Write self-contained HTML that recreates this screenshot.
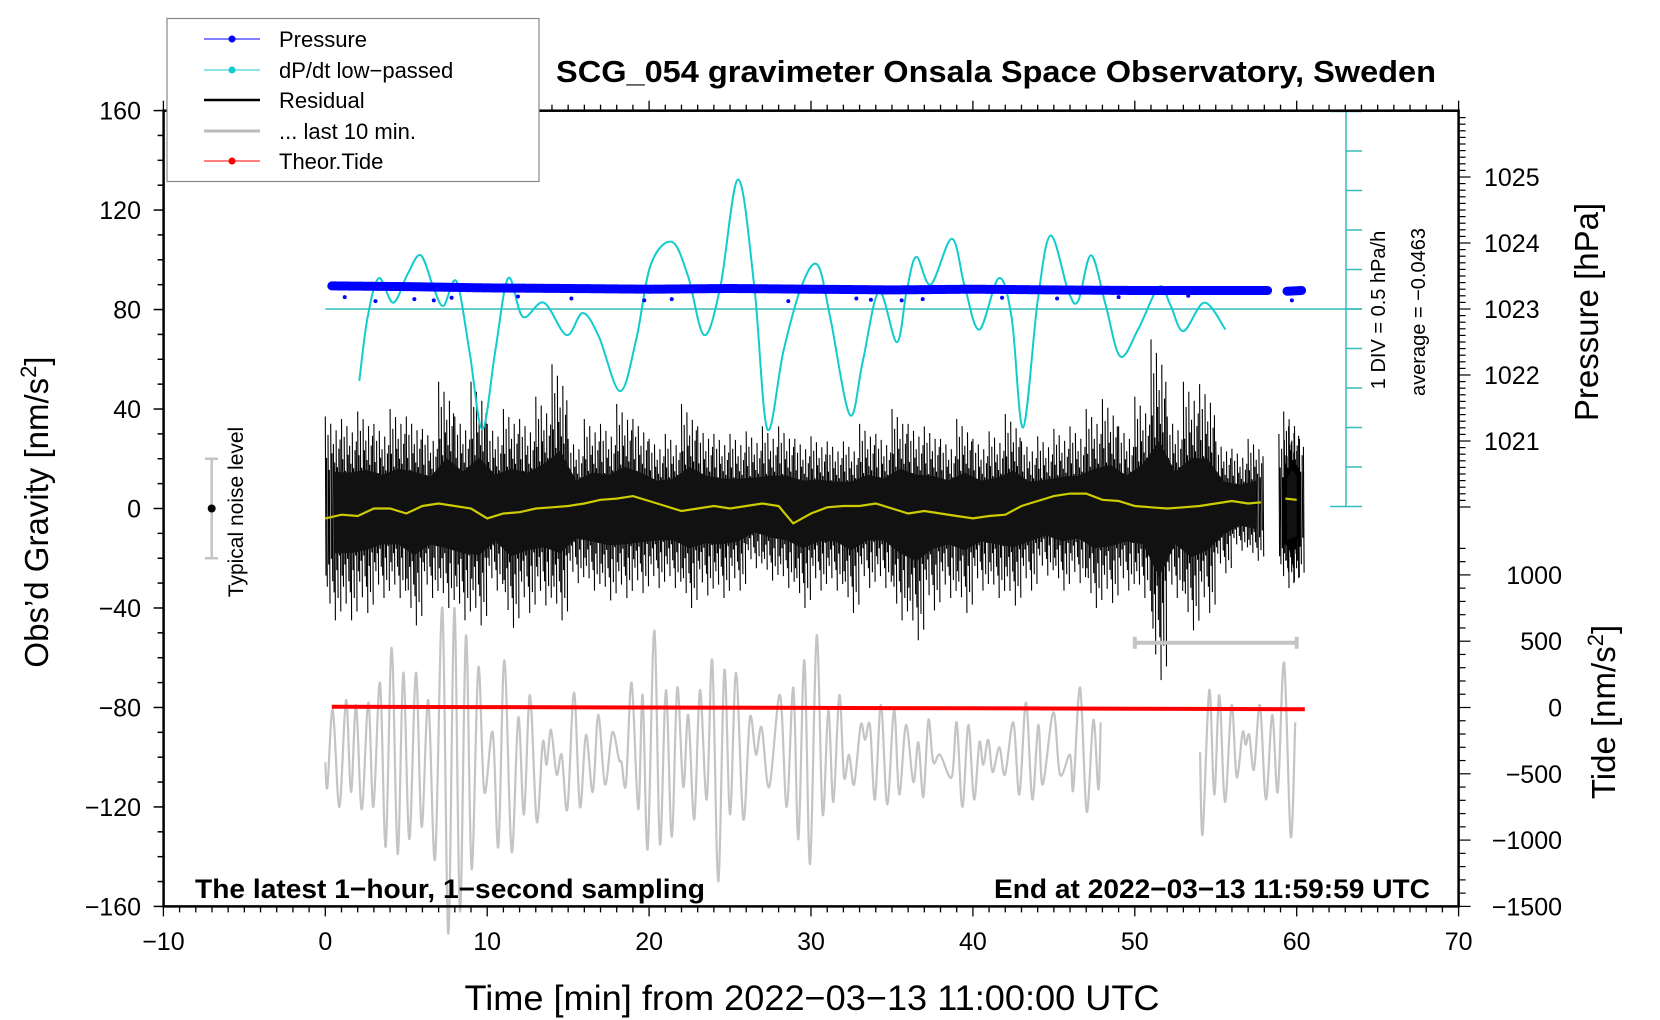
<!DOCTYPE html>
<html><head><meta charset="utf-8"><style>
html,body{margin:0;padding:0;background:#fff}
svg{display:block;font-family:"Liberation Sans",Arial,sans-serif}
</style></head><body>
<svg id="chart" width="1660" height="1020" viewBox="0 0 1660 1020" xmlns="http://www.w3.org/2000/svg">
<rect x="0" y="0" width="1660" height="1020" fill="#fff"/>
<g id="axes"></g>
<g id="marks"></g>
<rect x="163.6" y="110.7" width="1295" height="795.7" fill="none" stroke="#000" stroke-width="2.5"/>
<text x="996" y="82" font-size="31" font-weight="bold" text-anchor="middle" textLength="880" lengthAdjust="spacingAndGlyphs">SCG_054 gravimeter Onsala Space Observatory, Sweden</text>
<text transform="translate(48,512) rotate(-90)" font-size="33" text-anchor="middle">Obs’d Gravity [nm/s<tspan font-size="22" dy="-12">2</tspan><tspan dy="12">]</tspan></text>
<text x="812" y="1010" font-size="35" text-anchor="middle" textLength="695" lengthAdjust="spacingAndGlyphs">Time [min] from 2022−03−13 11:00:00 UTC</text>
<text transform="translate(1598,312) rotate(-90)" font-size="33" text-anchor="middle">Pressure [hPa]</text>
<text transform="translate(1615,712) rotate(-90)" font-size="33" text-anchor="middle">Tide [nm/s<tspan font-size="22" dy="-12">2</tspan><tspan dy="12">]</tspan></text>
<text transform="translate(1385,310) rotate(-90)" font-size="20" text-anchor="middle">1 DIV = 0.5 hPa/h</text>
<text transform="translate(1425,312) rotate(-90)" font-size="20" text-anchor="middle">average = −0.0463</text>
<text transform="translate(243,512) rotate(-90)" font-size="21" text-anchor="middle">Typical noise level</text>
<text x="195" y="898" font-size="27" font-weight="bold" textLength="510" lengthAdjust="spacingAndGlyphs">The latest 1−hour, 1−second sampling</text>
<text x="1430" y="898" font-size="27" font-weight="bold" text-anchor="end" textLength="436" lengthAdjust="spacingAndGlyphs">End at 2022−03−13 11:59:59 UTC</text>
<g>
<rect x="167" y="18.5" width="372" height="163" fill="#fff" stroke="#888" stroke-width="1.2"/>
<g><line x1="204" y1="39" x2="260" y2="39" stroke="#00f" stroke-width="1"/><circle cx="232" cy="39" r="3.5" fill="#00f"/><text x="279" y="47" font-size="22">Pressure</text></g>
<g><line x1="204" y1="70" x2="260" y2="70" stroke="#2cc" stroke-width="1"/><circle cx="232" cy="70" r="3.5" fill="#1cc"/><text x="279" y="78" font-size="22">dP/dt low−passed</text></g>
<g><line x1="204" y1="100" x2="260" y2="100" stroke="#000" stroke-width="2.5"/><text x="279" y="108" font-size="22">Residual</text></g>
<g><line x1="204" y1="131" x2="260" y2="131" stroke="#bbb" stroke-width="3"/><text x="279" y="139" font-size="22">... last 10 min.</text></g>
<g><line x1="204" y1="161" x2="260" y2="161" stroke="#f00" stroke-width="1"/><circle cx="232" cy="161" r="3.5" fill="#f00"/><text x="279" y="169" font-size="22">Theor.Tide</text></g>
</g>
</svg>
<script>
// ---- data ----
const gravTicks = [160,120,80,40,0,-40,-80,-120,-160];
const xTicks = [-10,0,10,20,30,40,50,60,70];
const pressTicks = [1025,1024,1023,1022,1021];
const tideTicks = [1000,500,0,-500,-1000,-1500];
const resT  = [0.5,1.5,2.5,3.5,4.5,5.5,6.5,7.5,8.5,9.5,10.5,11.5,12.5,13.5,14.5,15.5,16.5,17.5,18.5,19.5,20.5,21.5,22.5,23.5,24.5,25.5,26.5,27.5,28.5,29.5,30.5,31.5,32.5,33.5,34.5,35.5,36.5,37.5,38.5,39.5,40.5,41.5,42.5,43.5,44.5,45.5,46.5,47.5,48.5,49.5,50.5,51.5,52.5,53.5,54.5,55.5,56.5,57.5];
const resHi = [37,36,39,34,40,37,32,51,37,51,34,40,36,45,58,28,36,34,42,36,28,30,42,33,30,30,31,33,33,28,29,27,27,34,30,40,34,33,28,36,28,31,38,27,29,32,33,40,44,33,45,68,37,51,50,27,24,28];
const resLo = [-45,-45,-42,-36,-36,-47,-36,-40,-45,-47,-33,-48,-42,-39,-45,-30,-33,-37,-36,-34,-32,-32,-40,-35,-36,-33,-24,-29,-32,-40,-33,-33,-42,-32,-32,-45,-53,-41,-36,-42,-33,-36,-39,-33,-27,-33,-30,-40,-38,-33,-36,-69,-36,-49,-42,-26,-17,-21];
const res2T = [59.4,59.7,60.0];
const res2Hi = [30,39,33];
const res2Lo = [-32,-30,-28];
const meanT = [0,1,2,3,4,5,6,7,8,9,10,11,12,13,14,15,16,17,18,19,20,21,22,23,24,25,26,27,28,28.9,30,31,32,33,34,35,36,37,38,39,40,41,42,43,44,45,46,47,48,49,50,51,52,53,54,55,56,57,57.8];
const meanG = [-4,-2.5,-3,0,0,-2,1,2,1,0,-4,-2,-1.5,0,0.5,1,2,3.5,4,5,3,1,-1,0,1,0,1,2,1,-6,-2,0.5,1,1,2,0,-2,-1,-2,-3,-4,-3,-2.5,1,3,5,6,6,3.5,3,1,0.5,0,0.5,1,2,3,2,2.5];
const mean2T = [59.3,60.0];
const mean2G = [4,3.5];
const pressT = [0.4,5,10,15,20,25,30,35,40,45,50,55,58.2];
const pressV = [1023.35,1023.34,1023.32,1023.31,1023.30,1023.31,1023.30,1023.29,1023.30,1023.29,1023.28,1023.28,1023.28];
const press2T = [59.4,60.3];
const press2V = [1023.27,1023.28];
const pressOutT = [1.2,3.1,5.5,6.7,7.8,11.9,15.2,19.7,21.4,28.6,32.8,33.7,35.6,36.9,41.8,45.2,49.0,53.3,59.7];
const pressOutV = [1023.18,1023.12,1023.15,1023.13,1023.17,1023.19,1023.16,1023.13,1023.15,1023.12,1023.16,1023.14,1023.13,1023.15,1023.17,1023.16,1023.18,1023.20,1023.13];
const dpT = [2.1,2.6,3.3,4.2,5.1,5.9,6.7,7.3,8.1,8.9,9.7,10.5,11.3,12.2,13.5,14.9,15.9,16.9,18.2,19.2,20.1,21.4,22.4,23.4,24.4,25.5,26.5,27.3,28.3,29.4,30.4,31.2,32.4,33.2,34.2,35.3,35.9,36.5,37.4,38.7,39.5,40.4,41.6,42.4,43.1,44.0,44.8,45.9,46.5,47.3,48.2,49.1,50.2,51.5,52.2,53.0,54.3,55.6];
const dpV = [-0.91,-0.12,0.39,0.08,0.45,0.68,0.26,0.04,0.35,-0.53,-1.52,-0.53,0.39,-0.1,0.08,-0.33,-0.05,-0.35,-1.04,-0.39,0.56,0.85,0.42,-0.33,0.28,1.64,0.28,-1.52,-0.53,0.28,0.56,-0.12,-1.34,-0.66,0.22,-0.42,0.22,0.66,0.31,0.89,0.28,-0.26,0.39,-0.12,-1.5,0.1,0.93,0.22,0.1,0.68,0.05,-0.6,-0.26,0.28,0.05,-0.28,0.08,-0.26];
const grayT = [0.0,0.13,0.46,0.87,1.28,1.59,1.90,2.25,2.66,2.97,3.38,3.73,4.10,4.47,4.82,5.19,5.60,5.95,6.36,6.78,7.23,7.60,7.97,8.32,8.69,9.04,9.45,9.82,10.34,10.69,11.06,11.51,11.92,12.27,12.64,13.06,13.43,13.67,13.94,14.29,14.60,14.95,15.36,15.73,16.10,16.52,16.86,17.28,17.73,18.14,18.30,18.57,18.92,19.33,19.60,19.91,20.32,20.67,21.04,21.40,21.74,22.11,22.42,22.79,23.14,23.56,23.90,24.27,24.65,25.00,25.37,25.82,26.23,26.60,26.95,27.42,28.08,28.50,28.91,29.22,29.59,29.94,30.35,30.72,31.07,31.38,31.75,32.04,32.35,32.66,33.07,33.34,33.64,33.95,34.32,34.71,35.13,35.45,35.87,36.32,36.63,36.94,37.25,37.55,37.97,38.69,39.00,39.35,39.72,40.07,40.40,40.64,40.95,41.22,41.63,41.98,42.50,42.87,43.28,43.67,44.04,44.31,44.97,45.38,46.00,46.20,46.62,47.03,47.44,47.75,47.89];
const grayG = [-102,-112,-81,-120,-77,-114,-79,-121,-78,-120,-70,-136,-56,-139,-66,-133,-66,-128,-77,-141,-40,-171,-40,-162,-51,-145,-64,-114,-90,-136,-61,-138,-84,-123,-75,-126,-94,-103,-89,-107,-99,-121,-74,-120,-91,-114,-83,-111,-90,-101,-102,-111,-70,-121,-75,-137,-49,-135,-73,-132,-72,-112,-83,-125,-73,-117,-61,-150,-65,-123,-66,-125,-84,-99,-88,-112,-75,-120,-72,-133,-61,-143,-51,-123,-81,-118,-75,-108,-99,-111,-87,-93,-87,-117,-79,-119,-81,-115,-87,-110,-94,-116,-85,-102,-99,-108,-86,-120,-87,-117,-94,-103,-93,-106,-96,-107,-86,-115,-78,-117,-87,-111,-82,-107,-99,-113,-72,-122,-85,-113,-86];
const gray2T = [54.03,54.19,54.60,54.91,55.22,55.57,55.98,56.29,56.66,56.85,57.07,57.36,57.73,58.10,58.49,58.83,59.22,59.63,59.91];
const gray2G = [-98,-131,-73,-115,-75,-118,-79,-108,-90,-95,-91,-105,-79,-117,-83,-114,-62,-132,-86];
const tideT = [0.4,10,20,30,40,50,60.5];
const tideV = [5,3,0,-3,-6,-9,-13];
const lastBarT = [50,60];
const lastBarG = -54;
const noiseG = [20,-20];

// ---- scales ----
const xS = t => 325.3 + t*16.19;
const yG = g => 508.5 - g*2.487;
const yP = p => 309 - (p-1023)*66;
const yT = v => 707.5 - v*0.1326;
const yC = v => 309 - v*79;
const NS = 'http://www.w3.org/2000/svg';
const axes = document.getElementById('axes');
const marks = document.getElementById('marks');
function mk(tag, attrs, parent){const e=document.createElementNS(NS,tag);for(const k in attrs)e.setAttribute(k,attrs[k]);parent.appendChild(e);return e;}

// ---- axes ticks ----
for(let g=-160; g<=160; g+=10){
  const major = g%40===0;
  const tk = mk('line',{x1:163.6,x2:163.6-(major?10:6),y1:yG(g),y2:yG(g),stroke:'#000','stroke-width':1.5},axes);
  
  
}
gravTicks.forEach(g=>{
  const t = mk('text',{x:141,y:yG(g)+9,'font-size':25,'text-anchor':'end'},axes);
  t.textContent = String(g).replace('-','−');
  
  
});
for(let m=-10; m<=70; m+=1){
  const major = m%10===0;
  const b = mk('line',{x1:xS(m),x2:xS(m),y1:906.4,y2:906.4+(major?10:6),stroke:'#000','stroke-width':1.3},axes);
  
  
  const tp = mk('line',{x1:xS(m),x2:xS(m),y1:110.7,y2:110.7-(major?10:6),stroke:'#000','stroke-width':1.3},axes);
  
  
}
xTicks.forEach(m=>{
  const t = mk('text',{x:xS(m),y:950,'font-size':25,'text-anchor':'middle'},axes);
  t.textContent = String(m).replace('-','−');
  
  
});
for(let i=0;i<=59;i++){
  const p = 1025.9 - i*0.1;
  const major = Math.abs(p-Math.round(p))<0.01;
  const tk = mk('line',{x1:1458.6,x2:1458.6+(major?12:7),y1:yP(p),y2:yP(p),stroke:'#000','stroke-width':1.2},axes);
  
  
}
pressTicks.forEach(p=>{
  const t = mk('text',{x:1484,y:yP(p)+9,'font-size':25},axes);
  t.textContent = p;
  
  
});
for(let v=-1500; v<=1200; v+=100){
  const major = v%500===0;
  const tk = mk('line',{x1:1458.6,x2:1458.6+(major?12:7),y1:yT(v),y2:yT(v),stroke:'#000','stroke-width':1.2},axes);
  
  
}
tideTicks.forEach(v=>{
  const t = mk('text',{x:1562,y:yT(v)+9,'font-size':25,'text-anchor':'end'},axes);
  t.textContent = String(v).replace('-','−');
  
  
});
// dP/dt axis
const cAx = mk('line',{x1:1346,x2:1346,y1:yC(2.5),y2:yC(-2.5),stroke:'#3bb',"stroke-width":1.5},axes);


for(let k=-5;k<=5;k++){
  const v=k*0.5; const end = (k===5||k===-5);
  const tk = mk('line',{x1:end?1330:1346,x2:1362,y1:yC(v),y2:yC(v),stroke:'#3bb','stroke-width':1.5},axes);
  
  
}
const zl = mk('line',{x1:xS(0),x2:1362,y1:yC(0),y2:yC(0),stroke:'#3bb','stroke-width':1.5},axes);



// ---- marks ----
function pts(T,V,fx,fy){return T.map((t,i)=>fx(t).toFixed(1)+','+fy(V[i]).toFixed(1)).join(' ');}
function smoothPath(T,V,fx,fy){
  const P=T.map((t,i)=>[fx(t),fy(V[i])]);let d='M'+P[0][0]+','+P[0][1];
  for(let i=0;i<P.length-1;i++){const p0=P[i-1]||P[i],p1=P[i],p2=P[i+1],p3=P[i+2]||p2;
    d+=' C'+(p1[0]+(p2[0]-p0[0])/6)+','+(p1[1]+(p2[1]-p0[1])/6)+' '+(p2[0]-(p3[0]-p1[0])/6)+','+(p2[1]-(p3[1]-p1[1])/6)+' '+p2[0]+','+p2[1];}
  return d;}

// gray last 10 min
const g1 = mk('path',{d:smoothPath(grayT,grayG,xS,yG),fill:'none',stroke:'#c4c4c4','stroke-width':2.2},marks);


const g2 = mk('path',{d:smoothPath(gray2T,gray2G,xS,yG),fill:'none',stroke:'#c4c4c4','stroke-width':2.2},marks);



// residual: dense strokes within each bin's envelope (texture pattern is styling)
const texture = [1,0.55,0.8,0.42,0.92,0.6,0.7,0.5,0.85,0.45,0.65,0.75];
function residual(T,H,L,name){
  let d='';
  T.forEach((t,i)=>{
    const n = texture.length;
    for(let k=0;k<n;k++){
      const x = xS(t) + (k/n - 0.5)*16.19;
      const f = texture[k], f2 = texture[(k+5)%n];
      d += 'M'+x.toFixed(1)+','+yG(H[i]*f).toFixed(1)+'L'+(x+0.7).toFixed(1)+','+yG(L[i]*f2).toFixed(1);
    }
  });
  const p = mk('path',{d:d,stroke:'#000','stroke-width':1.1,fill:'none'},marks);
  
  
  const inner = T.map((t,i)=>xS(t)+','+yG(H[i]*0.4)).concat(T.map((t,i)=>xS(t)+','+yG(L[i]*0.4)).reverse()).join(' ');
  const c = mk('polygon',{points:inner,fill:'#111'},marks);
  
  
}
residual(resT,resHi,resLo,'residual');
residual(res2T,res2Hi,res2Lo,'residual-segment-2');

// running mean
const m1 = mk('polyline',{points:pts(meanT,meanG,xS,yG),fill:'none',stroke:'#cc0','stroke-width':2.2},marks);


const m2 = mk('polyline',{points:pts(mean2T,mean2G,xS,yG),fill:'none',stroke:'#cc0','stroke-width':2.2},marks);



// last-10-min bar
const lb = mk('path',{d:'M'+xS(lastBarT[0])+','+(yG(lastBarG)-6)+'V'+(yG(lastBarG)+6)+'M'+xS(lastBarT[0])+','+yG(lastBarG)+'H'+xS(lastBarT[1])+'M'+xS(lastBarT[1])+','+(yG(lastBarG)-6)+'V'+(yG(lastBarG)+6),stroke:'#c4c4c4','stroke-width':4,fill:'none'},marks);



// tide
const td = mk('polyline',{points:pts(tideT,tideV,xS,yT),fill:'none',stroke:'#f00','stroke-width':4},marks);



// dP/dt
const dp = mk('path',{d:smoothPath(dpT,dpV,xS,yC),fill:'none',stroke:'#1cc','stroke-width':2},marks);



// pressure
const p1 = mk('polyline',{points:pts(pressT,pressV,xS,yP),fill:'none',stroke:'#00f','stroke-width':9,'stroke-linecap':'round','stroke-dasharray':'2.5 1'},marks);


const p2 = mk('polyline',{points:pts(press2T,press2V,xS,yP),fill:'none',stroke:'#00f','stroke-width':9,'stroke-linecap':'round'},marks);


pressOutT.forEach((t,i)=>{
  const c = mk('circle',{cx:xS(t),cy:yP(pressOutV[i]),r:2,fill:'#00f'},marks);
  
  
});

// noise level
const nb = mk('path',{d:'M205,'+yG(noiseG[0])+'H218M211.7,'+yG(noiseG[0])+'V'+yG(noiseG[1])+'M205,'+yG(noiseG[1])+'H218',stroke:'#c4c4c4','stroke-width':2.5,fill:'none'},marks);


const nd = mk('circle',{cx:211.7,cy:yG(0),r:4,fill:'#000'},marks);


</script>
</body></html>
